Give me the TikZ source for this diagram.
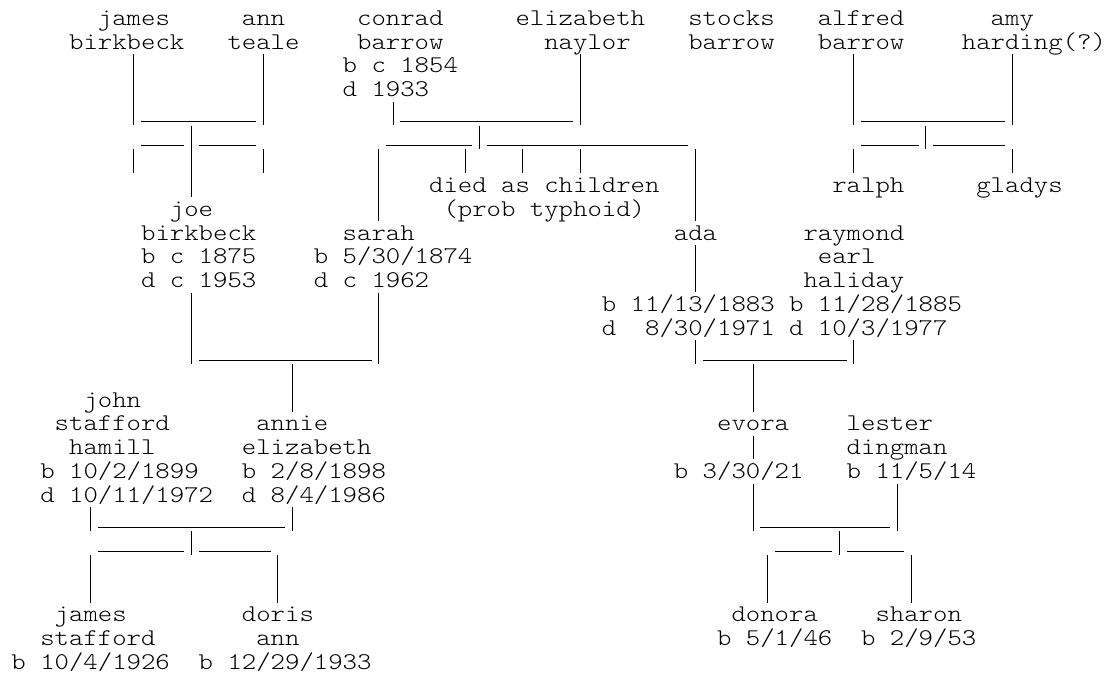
\documentclass[tikz,border=0pt]{standalone}
\usepackage{fontspec}
\newfontfamily\lmlight[FakeStretch=1.142857]{lmmonolt10-regular.otf}
\def\xo{11.5}\def\cw{14.4}\def\yo{25.2}\def\lh{23.87}
\tikzset{
  lbl/.style={anchor=base west, inner sep=0pt, outer sep=0pt,
    font=\lmlight\fontsize{24}{24}\selectfont},
  conn/.style={line width=1.3pt, line cap=butt}
}
% label: name, column, row, text
\newcommand\Lb[4]{\node[lbl] (#1) at ({\xo+#2*\cw},{-(\yo+(#3-1)*\lh)}) {#4};}
% vertical bar: column, first row, last row (snapped to pixel centres)
\newcommand\Vr[3]{\draw[conn] ({floor(\xo+(#1+0.5)*\cw)+0.5},{-(\yo+(#2-1)*\lh)+19}) -- ({floor(\xo+(#1+0.5)*\cw)+0.5},{-(\yo+(#3-1)*\lh)-4.5});}
% underscore run: row, first column, last column (snapped to pixel centres)
\newcommand\Hr[3]{\draw[conn] ({\xo+#2*\cw},{-(floor(\yo+(#1-1)*\lh)+1.5)}) -- ({\xo+(#3+1)*\cw},{-(floor(\yo+(#1-1)*\lh)+1.5)});}
\begin{document}
\begin{tikzpicture}[x=1pt,y=1pt]
\useasboundingbox (0,0) rectangle (1108,-676);
% row 1-4
\Lb{jamesA}{6}{1}{james}
\Lb{annA}{16}{1}{ann}
\Lb{conradA}{24}{1}{conrad}
\Lb{elizA}{35}{1}{elizabeth}
\Lb{stocksA}{47}{1}{stocks}
\Lb{alfredA}{56}{1}{alfred}
\Lb{amyA}{68}{1}{amy}
\Lb{jamesB}{4}{2}{birkbeck}
\Lb{annB}{15}{2}{teale}
\Lb{conradB}{24}{2}{barrow}
\Lb{elizB}{37}{2}{naylor}
\Lb{stocksB}{47}{2}{barrow}
\Lb{alfredB}{56}{2}{barrow}
\Lb{amyB}{66}{2}{harding(?)}
\Lb{conradC}{23}{3}{b c 1854}
\Lb{conradD}{23}{4}{d 1933}
% rows 8-14
\Lb{died}{29}{8}{died as children}
\Lb{ralph}{57}{8}{ralph}
\Lb{gladys}{67}{8}{gladys}
\Lb{joeA}{11}{9}{joe}
\Lb{typhoid}{30}{9}{(prob typhoid)}
\Lb{joeB}{9}{10}{birkbeck}
\Lb{sarahA}{23}{10}{sarah}
\Lb{adaA}{46}{10}{ada}
\Lb{raymondA}{55}{10}{raymond}
\Lb{joeC}{9}{11}{b c 1875}
\Lb{sarahB}{21}{11}{b 5/30/1874}
\Lb{raymondB}{56}{11}{earl}
\Lb{joeD}{9}{12}{d c 1953}
\Lb{sarahC}{21}{12}{d c 1962}
\Lb{raymondC}{55}{12}{haliday}
\Lb{adaB}{41}{13}{b 11/13/1883}
\Lb{raymondD}{54}{13}{b 11/28/1885}
\Lb{adaC}{41}{14}{d\ \ 8/30/1971}
\Lb{raymondE}{54}{14}{d 10/3/1977}
% rows 17-21
\Lb{johnA}{5}{17}{john}
\Lb{johnB}{3}{18}{stafford}
\Lb{annieA}{17}{18}{annie}
\Lb{evoraA}{49}{18}{evora}
\Lb{lesterA}{58}{18}{lester}
\Lb{johnC}{4}{19}{hamill}
\Lb{annieB}{16}{19}{elizabeth}
\Lb{lesterB}{58}{19}{dingman}
\Lb{johnD}{2}{20}{b 10/2/1899}
\Lb{annieC}{16}{20}{b 2/8/1898}
\Lb{evoraB}{46}{20}{b 3/30/21}
\Lb{lesterC}{58}{20}{b 11/5/14}
\Lb{johnE}{2}{21}{d 10/11/1972}
\Lb{annieD}{16}{21}{d 8/4/1986}
% rows 26-28
\Lb{jsA}{3}{26}{james}
\Lb{dorisA}{16}{26}{doris}
\Lb{donoraA}{50}{26}{donora}
\Lb{sharonA}{60}{26}{sharon}
\Lb{jsB}{2}{27}{stafford}
\Lb{dorisB}{17}{27}{ann}
\Lb{donoraB}{49}{27}{b 5/1/46}
\Lb{sharonB}{59}{27}{b 2/9/53}
\Lb{jsC}{0}{28}{b 10/4/1926}
\Lb{dorisC}{13}{28}{b 12/29/1933}
% vertical bars
\Vr{8}{3}{5}\Vr{8}{7}{7}
\Vr{17}{3}{5}\Vr{17}{7}{7}
\Vr{39}{3}{5}\Vr{39}{7}{7}
\Vr{58}{3}{5}\Vr{58}{7}{7}
\Vr{69}{3}{5}\Vr{69}{7}{7}
\Vr{26}{5}{5}\Vr{12}{6}{8}\Vr{32}{6}{6}\Vr{63}{6}{6}
\Vr{25}{7}{9}\Vr{31}{7}{7}\Vr{35}{7}{7}\Vr{47}{7}{9}
\Vr{47}{11}{12}\Vr{12}{13}{15}\Vr{25}{13}{15}\Vr{47}{15}{15}\Vr{58}{15}{15}
\Vr{19}{16}{17}\Vr{51}{16}{17}\Vr{51}{19}{19}
\Vr{51}{21}{22}\Vr{61}{21}{22}\Vr{5}{22}{22}\Vr{19}{22}{22}
\Vr{12}{23}{23}\Vr{57}{23}{23}
\Vr{5}{24}{25}\Vr{18}{24}{25}\Vr{52}{24}{25}\Vr{62}{24}{25}
% underscore runs
\Hr{5}{9}{16}\Hr{5}{27}{38}\Hr{5}{59}{68}
\Hr{6}{9}{11}\Hr{6}{13}{16}\Hr{6}{26}{31}\Hr{6}{33}{46}\Hr{6}{59}{62}\Hr{6}{64}{68}
\Hr{15}{13}{24}\Hr{15}{48}{57}
\Hr{22}{6}{18}\Hr{22}{52}{60}
\Hr{23}{6}{11}\Hr{23}{13}{17}\Hr{23}{53}{56}\Hr{23}{58}{61}
\end{tikzpicture}
\end{document}
